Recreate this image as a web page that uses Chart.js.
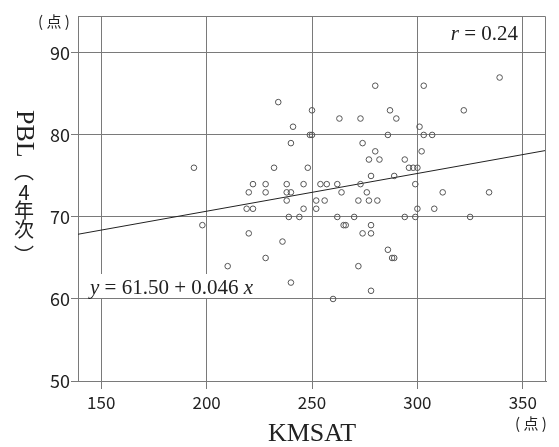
<!DOCTYPE html>
<html>
<head>
<meta charset="utf-8">
<script src="https://cdn.jsdelivr.net/npm/chart.js"></script>
<style>
  body { margin: 0; background: #fff; }
</style>
</head>
<body>
<canvas id="scatter" width="559" height="447"></canvas>
<script>
// KMSAT score vs PBL (4th year) score, one entry per student
const kmsat = [
  339,
  280, 303,
  234,
  250, 287, 322,
  263, 273, 290,
  241, 301,
  249, 250, 286, 303, 307,
  240, 274,
  280, 302,
  277, 282, 294,
  194, 232, 248, 296, 298, 300,
  278, 289,
  222, 228, 238, 246, 254, 257, 262, 273, 299,
  220, 228, 238, 240, 264, 276, 312, 334,
  238, 252, 256, 272, 277, 281,
  219, 222, 246, 252, 300, 308,
  239, 244, 262, 270, 294, 299, 325,
  198, 265, 266, 278,
  220, 274, 278,
  236,
  286,
  228, 288, 289,
  210, 272,
  240,
  278,
  260
];
const pbl = [
  87,
  86, 86,
  84,
  83, 83, 83,
  82, 82, 82,
  81, 81,
  80, 80, 80, 80, 80,
  79, 79,
  78, 78,
  77, 77, 77,
  76, 76, 76, 76, 76, 76,
  75, 75,
  74, 74, 74, 74, 74, 74, 74, 74, 74,
  73, 73, 73, 73, 73, 73, 73, 73,
  72, 72, 72, 72, 72, 72,
  71, 71, 71, 71, 71, 71,
  70, 70, 70, 70, 70, 70, 70,
  69, 69, 69, 69,
  68, 68, 68,
  67,
  66,
  65, 65, 65,
  64, 64,
  62,
  61,
  60
];

// regression line y = 61.50 + 0.046x, ends at the plot edges
const fitX = [139, 361];
const fitY = [67.89, 78.11];

const xTicks = [150, 200, 250, 300, 350];
const yTicks = [50, 60, 70, 80, 90];

const gridColor = '#7a7a7a';
const textColor = '#222';
const jp = '"Noto Sans CJK JP", "Noto Sans", sans-serif';
const serif = '"Liberation Serif", "DejaVu Serif", serif';

// frame, unit labels, r and equation, vertical y title
const annotations = {
  id: 'annotations',
  afterDatasetsDraw(chart) {
    const ctx = chart.ctx;
    const a = chart.chartArea;
    ctx.save();

    // top and right edges of the frame
    ctx.strokeStyle = gridColor;
    ctx.lineWidth = 1;
    ctx.beginPath();
    ctx.moveTo(a.left, a.top + 0.5);
    ctx.lineTo(a.right - 0.5, a.top + 0.5);
    ctx.lineTo(a.right - 0.5, a.bottom);
    ctx.stroke();

    ctx.fillStyle = textColor;
    ctx.textBaseline = 'middle';

    // unit labels
    ctx.font = '15px ' + jp;
    ctx.textAlign = 'center';
    ctx.fillText('( 点 )', 54, 21);
    ctx.fillText('( 点 )', 531, 423);

    // correlation, top right
    ctx.textAlign = 'left';
    ctx.font = '21px ' + serif;
    const rest = ' = 0.24';
    const restW = ctx.measureText(rest).width;
    ctx.font = 'italic 21px ' + serif;
    const rW = ctx.measureText('r').width;
    let x0 = 518 - restW - rW;
    ctx.fillText('r', x0, 34);
    ctx.font = '21px ' + serif;
    ctx.fillText(rest, x0 + rW, 34);

    // regression equation on a white box
    const mid = ' = 61.50 + 0.046 ';
    ctx.font = '21px ' + serif;
    const midW = ctx.measureText(mid).width;
    ctx.font = 'italic 21px ' + serif;
    const yW = ctx.measureText('y').width;
    const xW = ctx.measureText('x').width;
    ctx.fillStyle = '#fff';
    ctx.fillRect(87, 274, yW + midW + xW + 8, 24);
    ctx.fillStyle = textColor;
    x0 = 90;
    ctx.fillText('y', x0, 288);
    ctx.font = '21px ' + serif;
    ctx.fillText(mid, x0 + yW, 288);
    ctx.font = 'italic 21px ' + serif;
    ctx.fillText('x', x0 + yW + midW, 288);

    // y axis title, written top to bottom
    const cx = 24;
    ctx.save();
    ctx.translate(cx, 110);
    ctx.rotate(Math.PI / 2);
    ctx.font = '26px ' + serif;
    ctx.fillText('PBL', 0, 0);
    ctx.restore();

    ctx.font = '20px ' + jp;
    ctx.textAlign = 'center';
    ctx.fillText('︵', cx, 171);
    ctx.fillText('4', cx, 192);
    ctx.fillText('年', cx, 210);
    ctx.fillText('次', cx, 229);
    ctx.fillText('︶', cx, 255);

    ctx.restore();
  }
};

new Chart(document.getElementById('scatter').getContext('2d'), {
  type: 'scatter',
  data: {
    datasets: [
      {
        data: kmsat.map((x, i) => ({ x: x, y: pbl[i] })),
        pointStyle: 'circle',
        pointRadius: 2.8,
        borderColor: '#555',
        backgroundColor: 'rgba(255,255,255,0)',
        borderWidth: 1
      },
      {
        type: 'line',
        data: fitX.map((x, i) => ({ x: x, y: fitY[i] })),
        borderColor: '#222',
        borderWidth: 1,
        pointRadius: 0,
        fill: false
      }
    ]
  },
  options: {
    responsive: false,
    animation: false,
    layout: { padding: { top: 16, right: 13, left: 0, bottom: 0 } },
    plugins: {
      legend: { display: false },
      tooltip: { enabled: false }
    },
    scales: {
      x: {
        type: 'linear',
        min: 139,
        max: 361,
        afterBuildTicks: s => { s.ticks = xTicks.map(v => ({ value: v })); },
        afterFit: s => { s.height = 66; },
        grid: { color: gridColor, tickColor: gridColor, tickLength: 8, lineWidth: 1 },
        border: { display: true, color: gridColor },
        ticks: {
          font: { family: jp, size: 17 },
          color: textColor,
          padding: 3,
          maxRotation: 0
        },
        title: {
          display: true,
          text: 'KMSAT',
          font: { family: serif, size: 26, lineHeight: 1 },
          color: textColor,
          padding: { top: 0, bottom: 0 }
        }
      },
      y: {
        min: 50,
        max: 94.5,
        afterBuildTicks: s => { s.ticks = yTicks.map(v => ({ value: v })); },
        afterFit: s => { s.width = 78; },
        grid: { color: gridColor, tickColor: gridColor, tickLength: 7, lineWidth: 1 },
        border: { display: true, color: gridColor },
        ticks: {
          font: { family: jp, size: 18 },
          color: textColor,
          padding: 1
        }
      }
    }
  },
  plugins: [annotations]
});
</script>
</body>
</html>
